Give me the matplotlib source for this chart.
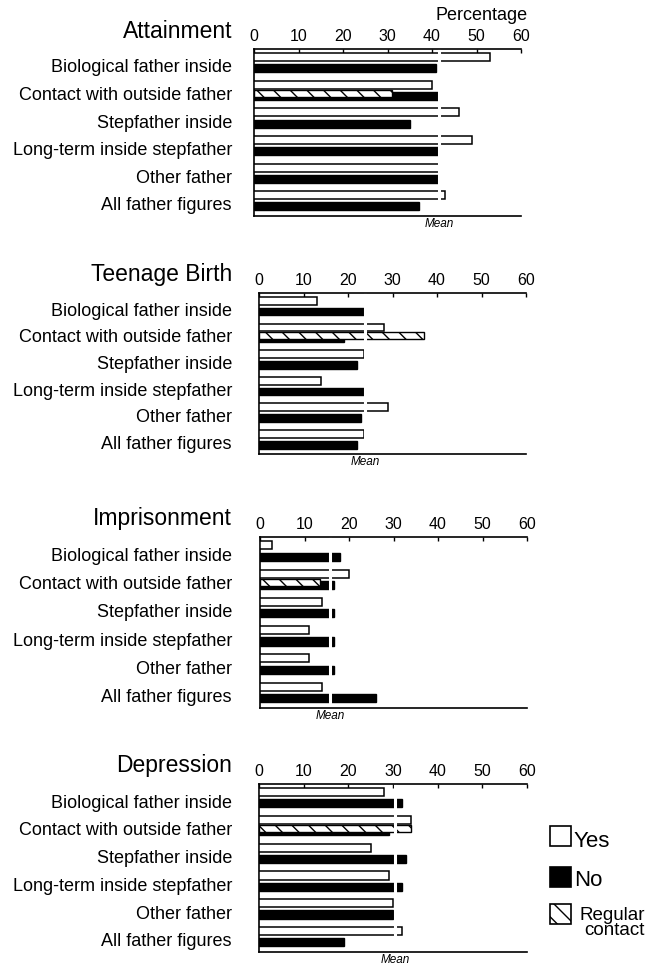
import numpy as np
import matplotlib
matplotlib.use("Agg")
import matplotlib.pyplot as plt
import matplotlib.transforms as mtransforms
from matplotlib.patches import Rectangle

plt.rcParams['font.family'] = ['Liberation Sans', 'DejaVu Sans']
plt.rcParams['hatch.linewidth'] = 1.0

# ---------------- data ----------------
kategorie = ["Biological father inside", "Contact with outside father", "Stepfather inside",
             "Long-term inside stepfather", "Other father", "All father figures"]
tytuly = ["Attainment", "Teenage Birth", "Imprisonment", "Depression"]

yes_attain = [53, 40, 46, 49, 41.5, 43]
no_attain = [41, 41.5, 35, 41.5, 41.5, 37]
yes_teen = [13, 28, 23.6, 14, 29, 23.6]
no_teen = [23.6, 19, 22, 23.6, 23, 22]
yes_prison = [2.8, 20, 14, 11, 11, 14]
no_prison = [18, 16.7, 16.7, 16.7, 16.7, 26]
yes_depr = [28, 34, 25, 29, 30, 32]
no_depr = [32, 29, 33, 32, 30, 19]

regular = [31, 37, 13.5, 34]       # "Regular contact" bar, contact row only
means = [41.6, 23.8, 15.8, 30.5]

ticks = [0, 10, 20, 30, 40, 50, 60]

yes_all = [yes_attain, yes_teen, yes_prison, yes_depr]
no_all = [no_attain, no_teen, no_prison, no_depr]

# ---------------- layout (pixels) ----------------
W, H = 663, 970
fig = plt.figure(figsize=(W / 100, H / 100), dpi=100)

# (left, right, top, bottom) of each panel in px
boxy = [(254, 521, 50, 217), (259, 526, 294, 455), (260, 527, 538, 709), (259, 527, 785, 953)]
label_x = 232 / W

def px_axes(l, r, t, b):
    return [l / W, 1 - b / H, (r - l) / W, (b - t) / H]

y = np.arange(len(kategorie))
h = 0.29
contact = 1

for k, (l, r, t, b) in enumerate(boxy):
    ax = fig.add_axes(px_axes(l, r, t, b))
    yes = yes_all[k]
    no = no_all[k]

    ax.barh(y + 0.2, no, height=h, color="black", edgecolor="black", lw=1, zorder=2)
    ax.barh(y - 0.205, yes, height=h, color="white", edgecolor="black", lw=1.1, zorder=3)
    ax.barh(contact + 0.11, regular[k], height=0.27, color="white", edgecolor="black",
            hatch="\\\\", lw=1, zorder=3)

    # mean shown as a gap through the bars
    ax.axvline(means[k], ymin=0.01, ymax=0.99, color="white", lw=2.2, zorder=4)
    ax.text(means[k], -0.005, "Mean", transform=mtransforms.blended_transform_factory(ax.transData, ax.transAxes),
            ha="center", va="top", fontsize=8.5, style="italic")

    ax.set_xlim(0, 60)
    ax.set_ylim(5.55, -0.5)
    ax.set_yticks([])
    ax.xaxis.tick_top()
    ax.set_xticks(ticks)
    ax.tick_params(axis="x", direction="in", length=3, width=1, pad=4, labelsize=11.5)
    ax.spines["right"].set_visible(False)
    for s in ["top", "bottom", "left"]:
        ax.spines[s].set_linewidth(1.2)
    ax.spines["bottom"].set_zorder(5)

    tr = mtransforms.blended_transform_factory(fig.transFigure, ax.transData)
    for i, kat in enumerate(kategorie):
        ax.text(label_x, i + 0.15, kat, transform=tr, ha="right", va="center", fontsize=13)

    fig.text(label_x, 1 - (t - 19) / H, tytuly[k], ha="right", va="center", fontsize=16.5)

fig.text(482 / W, 1 - 15 / H, "Percentage", ha="center", va="center", fontsize=13)

# ---------------- legend ----------------
def legend_box(ypx, **kw):
    fig.add_artist(Rectangle((550 / W, 1 - (ypx + 20) / H), 21 / W, 20 / H,
                             transform=fig.transFigure, edgecolor="black", lw=1.2, **kw))

legend_box(827, facecolor="white")
legend_box(868, facecolor="black")
legend_box(905, facecolor="white", hatch="\\\\")
fig.text(574 / W, 1 - 842 / H, "Yes", ha="left", va="center", fontsize=16)
fig.text(574 / W, 1 - 881 / H, "No", ha="left", va="center", fontsize=16)
fig.text(645 / W, 1 - 923 / H, "Regular\ncontact", ha="right", va="center", fontsize=13.5,
         multialignment="right", linespacing=0.85)

fig.savefig("out.png", dpi=100, facecolor="white")
